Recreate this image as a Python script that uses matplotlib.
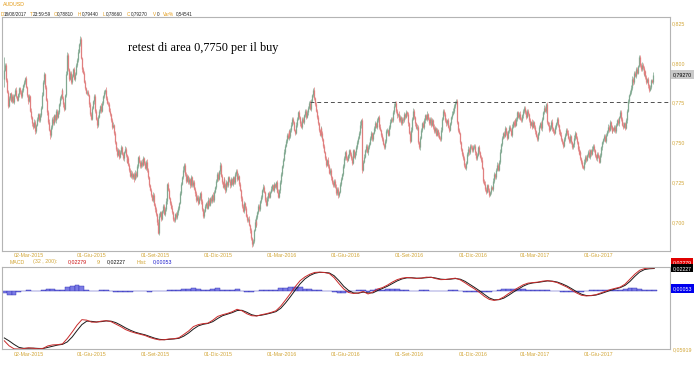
import numpy as np
import pandas as pd
import matplotlib
matplotlib.use("Agg")
import matplotlib.pyplot as plt
from matplotlib.transforms import blended_transform_factory

# ---------------- data ----------------
symbol = "AUDUSD"
last_date = "2017-08-18"
first_open = 0.7900
# daily closes, in 1e-4 units
close_pips = [
    7956, 7990, 7890, 7820, 7730, 7780, 7810, 7760, 7790, 7755,
    7800, 7830, 7790, 7770, 7805, 7840, 7815, 7790, 7830, 7860,
    7880, 7905, 7850, 7800, 7760, 7790, 7740, 7700, 7660, 7620,
    7600, 7630, 7570, 7610, 7650, 7680, 7640, 7670, 7720, 7800,
    7880, 7930, 7850, 7770, 7690, 7630, 7580, 7545, 7600, 7650,
    7620, 7670, 7640, 7700, 7660, 7690, 7740, 7780, 7800, 7830,
    7780, 7740, 7710, 7800, 7930, 8050, 7960, 7900, 7940, 7880,
    7920, 7960, 7900, 7930, 7990, 8020, 8070, 8120, 8150, 8030,
    7960, 7940, 7880, 7840, 7810, 7820, 7800, 7740, 7680, 7650, 7720,
    7760, 7790, 7740, 7700, 7650, 7610, 7660, 7700, 7730, 7700,
    7750, 7790, 7820, 7830, 7780, 7750, 7740, 7700, 7680, 7640,
    7600, 7610, 7560, 7500, 7460, 7420, 7450, 7410, 7440, 7470,
    7430, 7400, 7440, 7460, 7420, 7380, 7400, 7360, 7330, 7290,
    7310, 7280, 7300, 7270, 7310, 7290, 7350, 7410, 7380, 7350,
    7380, 7360, 7400, 7370, 7340, 7380, 7330, 7280, 7230, 7200,
    7170, 7140, 7170, 7110, 7080, 7050, 7000, 6930, 6980, 7040,
    7060, 7020, 7070, 7100, 7050, 7080, 7130, 7240, 7200, 7150,
    7120, 7090, 7060, 7020, 7010, 7050, 7030, 7060, 7090, 7120, 7180,
    7240, 7280, 7330, 7360, 7300, 7260, 7290, 7250, 7270, 7230,
    7280, 7260, 7230, 7250, 7210, 7180, 7140, 7160, 7120, 7150,
    7180, 7130, 7080, 7040, 7070, 7100, 7120, 7090, 7140, 7110,
    7150, 7130, 7170, 7140, 7190, 7220, 7260, 7300, 7270, 7320,
    7360, 7290, 7250, 7220, 7270, 7240, 7200, 7250, 7230, 7280,
    7260, 7230, 7270, 7240, 7280, 7250, 7300, 7320, 7270, 7290,
    7240, 7200, 7150, 7100, 7070, 7120, 7090, 7040, 7010, 7020,
    6980, 6950, 6900, 6860, 6880, 6950, 7000, 6980, 7030, 7060,
    7100, 7080, 7130, 7160, 7200, 7220, 7190, 7140, 7110, 7150,
    7180, 7160, 7190, 7210, 7230, 7200, 7240, 7220, 7250, 7190, 7160,
    7200, 7250, 7300, 7350, 7390, 7440, 7480, 7510, 7550, 7530,
    7570, 7540, 7580, 7610, 7650, 7630, 7580, 7560, 7610, 7650,
    7690, 7660, 7620, 7600, 7650, 7630, 7670, 7700, 7660, 7690,
    7720, 7750, 7710, 7760, 7800, 7830, 7780, 7740, 7700, 7660,
    7620, 7580, 7550, 7590, 7560, 7520, 7480, 7440, 7400, 7360,
    7390, 7350, 7310, 7330, 7280, 7250, 7230, 7260, 7220, 7180,
    7210, 7170, 7190, 7240, 7270, 7300, 7350, 7400, 7440, 7400,
    7390, 7420, 7450, 7430, 7400, 7370, 7420, 7450, 7410, 7440,
    7470, 7500, 7530, 7560, 7610, 7640, 7330, 7380, 7410, 7450,
    7480, 7440, 7470, 7490, 7530, 7560, 7520, 7560, 7590, 7620, 7600,
    7640, 7660, 7600, 7580, 7550, 7520, 7490, 7470, 7510, 7540,
    7570, 7580, 7550, 7600, 7630, 7650, 7640, 7690, 7730, 7750,
    7700, 7670, 7680, 7640, 7660, 7620, 7650, 7640, 7680, 7660,
    7690, 7680, 7620, 7560, 7510, 7580, 7650, 7700, 7660, 7620,
    7590, 7600, 7550, 7500, 7470, 7530, 7580, 7620, 7600, 7640,
    7670, 7650, 7680, 7650, 7620, 7650, 7610, 7640, 7600, 7570,
    7590, 7550, 7580, 7550, 7530, 7520, 7580, 7650, 7700, 7680,
    7640, 7620, 7640, 7600, 7580, 7590, 7620, 7660, 7680, 7700,
    7730, 7750, 7760, 7630, 7580, 7560, 7500, 7460, 7430, 7400,
    7360, 7340, 7370, 7430, 7460, 7440, 7480, 7470, 7450, 7470, 7480,
    7440, 7400, 7420, 7470, 7440, 7410, 7390, 7340, 7300, 7260,
    7240, 7210, 7190, 7230, 7200, 7170, 7190, 7220, 7210, 7260,
    7300, 7280, 7330, 7360, 7330, 7380, 7440, 7490, 7530, 7560,
    7540, 7590, 7560, 7530, 7570, 7600, 7580, 7550, 7600, 7630,
    7610, 7640, 7610, 7650, 7690, 7660, 7680, 7650, 7640, 7670,
    7700, 7720, 7690, 7660, 7700, 7680, 7640, 7610, 7630, 7600,
    7630, 7600, 7570, 7540, 7520, 7560, 7600, 7620, 7590, 7650,
    7690, 7720, 7700, 7740, 7660, 7630, 7610, 7580, 7600, 7630,
    7590, 7570, 7560, 7600, 7620, 7650, 7610, 7570, 7550, 7520, 7500,
    7480, 7520, 7550, 7580, 7560, 7530, 7510, 7540, 7500, 7470,
    7490, 7530, 7560, 7530, 7500, 7460, 7430, 7440, 7400, 7380,
    7350, 7340, 7380, 7410, 7390, 7420, 7440, 7410, 7450, 7430,
    7460, 7480, 7450, 7420, 7400, 7430, 7410, 7380, 7420, 7470,
    7500, 7520, 7540, 7510, 7550, 7570, 7600, 7580, 7630, 7600,
    7570, 7590, 7580, 7600, 7570, 7610, 7640, 7620, 7660, 7690, 7650,
    7610, 7600, 7620, 7590, 7640, 7700, 7760, 7800, 7820, 7840,
    7900, 7880, 7940, 7920, 7960, 7940, 7980, 8040, 7990, 7960,
    7990, 7970, 7930, 7950, 7910, 7880, 7900, 7860, 7830, 7850,
    7890, 7881, 7927,
]
# wick beyond the body, in units of 4 pips
wick_unit = 0.0004
wick_hi = [
    21, 3, 2, 4, 2, 3, 1, 2, 4, 3,  2, 3, 4, 1, 2, 3, 2, 4, 3, 2,
    3, 2, 4, 2, 1, 3, 2, 3, 4, 2,   2, 4, 3, 2, 3, 1, 2, 4, 3, 5,
    3, 4, 2, 3, 2, 3, 4, 2, 3, 2,   4, 2, 3, 3, 2, 4, 2, 3, 2, 3,
    2, 3, 4, 2, 5, 4, 3, 2, 3, 2,   3, 2, 4, 3, 2, 3, 4, 2, 5, 3,
    2, 3, 2, 4, 3, 2, 3, 2, 4, 3,   3, 2, 3, 4, 2, 3, 2, 4, 3, 2,
    4, 3, 2, 3, 2, 4, 3, 2, 3, 4,   2, 3, 4, 2, 3, 2, 3, 4, 2, 3,
    3, 2, 3, 2, 4, 3, 2, 3, 4, 2,   2, 4, 3, 2, 3, 4, 2, 3, 2, 3,
    3, 2, 4, 3, 2, 3, 2, 4, 3, 2,   2, 3, 2, 4, 3, 2, 3, 2, 4, 3,
    4, 2, 3, 2, 3, 4, 3, 5, 2, 3,   3, 2, 3, 4, 2, 3, 2, 3, 4, 2,
    2, 4, 3, 2, 5, 3, 2, 4, 3, 2,   3, 2, 4, 3, 2, 3, 4, 2, 3, 2,
    2, 3, 2, 4, 3, 2, 3, 4, 2, 3,   4, 3, 2, 3, 2, 4, 3, 2, 3, 4,
    3, 2, 4, 2, 3, 2, 3, 4, 2, 3,   2, 3, 2, 3, 4, 2, 3, 2, 4, 3,
    3, 4, 2, 3, 2, 3, 4, 3, 2, 3,   2, 3, 4, 2, 3, 2, 3, 2, 4, 3,
    3, 2, 3, 4, 2, 3, 2, 4, 3, 2,   4, 3, 2, 3, 2, 4, 3, 2, 3, 2,
    2, 3, 4, 2, 3, 4, 2, 3, 4, 2,   3, 2, 3, 4, 2, 3, 4, 2, 3, 2,
    2, 4, 3, 2, 3, 2, 4, 3, 2, 3,   3, 2, 4, 3, 2, 5, 3, 2, 3, 4,
    2, 3, 2, 4, 3, 2, 3, 2, 3, 2,   3, 2, 3, 2, 4, 3, 2, 3, 2, 4,
    2, 3, 4, 2, 3, 2, 3, 4, 2, 3,   3, 2, 3, 4, 2, 3, 2, 3, 4, 2,
    2, 3, 2, 3, 4, 2, 3, 6, 2, 3,   3, 4, 2, 3, 2, 3, 4, 2, 3, 2,
    2, 3, 4, 2, 3, 2, 3, 4, 2, 3,   3, 2, 3, 2, 4, 3, 2, 3, 4, 2,
    2, 3, 4, 3, 2, 3, 2, 4, 3, 2,   3, 2, 3, 2, 4, 2, 3, 2, 3, 4,
    2, 4, 3, 2, 3, 4, 2, 3, 2, 3,   3, 2, 4, 3, 2, 3, 4, 2, 3, 2,
    2, 3, 2, 4, 3, 2, 3, 2, 4, 3,   4, 2, 3, 2, 3, 4, 2, 3, 2, 3,
    3, 2, 4, 5, 3, 2, 3, 4, 2, 3,   2, 3, 2, 3, 4, 2, 3, 2, 4, 3,
    3, 2, 3, 4, 2, 3, 2, 3, 2, 4,   2, 3, 4, 2, 3, 2, 4, 3, 2, 3,
    3, 2, 3, 2, 4, 3, 2, 3, 4, 2,   2, 4, 2, 3, 2, 3, 4, 2, 3, 2,
    3, 2, 3, 4, 2, 3, 2, 4, 3, 2,   2, 3, 4, 2, 3, 2, 3, 2, 4, 3,
    3, 2, 3, 2, 4, 3, 2, 3, 2, 4,   2, 3, 2, 4, 3, 2, 4, 3, 2, 3,
    3, 2, 4, 2, 3, 4, 2, 3, 2, 3,   2, 3, 2, 3, 4, 2, 3, 4, 2, 3,
    3, 4, 2, 3, 2, 3, 2, 4, 3, 2,   2, 3, 4, 2, 3, 2, 3, 2, 4, 3,
    3, 2, 3, 4, 2, 3, 4, 2, 3, 2,   2, 3, 2, 3, 4, 2, 3, 2, 3, 4,
    3, 2, 4, 2, 3, 2, 3, 4, 2, 3,   2, 3, 2, 3, 2, 4, 3, 2, 4, 3,
    3, 4, 2, 3, 2, 3, 5, 4, 3, 2,   2, 3, 4, 2, 3, 2, 3, 4, 2, 3,
    3, 2, 3, 2, 3, 2, 3, 2, 3, 4,
]
wick_lo = [
    12, 2, 3, 2, 4, 2, 3, 2, 3, 2,  3, 2, 2, 3, 2, 4, 3, 2, 2, 3,
    2, 3, 2, 3, 4, 2, 3, 2, 3, 4,   3, 2, 4, 3, 2, 3, 2, 3, 2, 3,
    2, 3, 3, 2, 4, 3, 2, 5, 2, 3,   3, 2, 2, 4, 3, 2, 3, 2, 3, 2,
    2, 4, 3, 2, 3, 2, 3, 4, 2, 3,   3, 2, 2, 3, 2, 4, 3, 2, 3, 2,
    4, 3, 2, 3, 2, 3, 2, 4, 3, 2,   2, 3, 4, 2, 3, 2, 4, 3, 2, 3,
    3, 2, 3, 2, 4, 3, 2, 3, 2, 3,   2, 4, 2, 3, 2, 4, 3, 2, 3, 2,
    3, 2, 3, 4, 2, 3, 2, 3, 2, 4,   2, 3, 2, 3, 4, 2, 3, 2, 3, 2,
    3, 2, 4, 2, 3, 2, 3, 4, 2, 3,   2, 3, 2, 3, 2, 4, 3, 5, 2, 3,
    3, 2, 4, 2, 3, 2, 3, 2, 4, 2,   2, 3, 2, 3, 4, 2, 3, 2, 3, 4,
    3, 2, 3, 2, 3, 4, 2, 3, 2, 3,   2, 4, 2, 3, 2, 3, 2, 4, 3, 2,
    3, 2, 3, 4, 2, 3, 4, 2, 3, 2,   2, 3, 2, 3, 2, 4, 3, 2, 3, 2,
    3, 2, 4, 2, 3, 2, 3, 2, 4, 3,   2, 3, 2, 4, 3, 2, 3, 2, 3, 2,
    3, 2, 3, 2, 4, 3, 2, 3, 4, 2,   2, 3, 2, 4, 3, 5, 2, 3, 2, 3,
    3, 2, 3, 2, 3, 2, 4, 3, 2, 4,   2, 3, 4, 2, 3, 2, 3, 2, 3, 2,
    3, 2, 3, 2, 4, 3, 2, 3, 2, 3,   2, 4, 2, 3, 2, 3, 4, 2, 3, 2,
    3, 2, 3, 2, 3, 4, 2, 3, 2, 4,   2, 3, 2, 4, 3, 2, 3, 2, 4, 3,
    3, 2, 3, 2, 3, 2, 4, 3, 2, 3,   2, 3, 4, 2, 3, 2, 3, 4, 2, 3,
    3, 2, 3, 2, 4, 3, 2, 3, 2, 3,   2, 3, 2, 3, 2, 4, 3, 2, 3, 2,
    3, 2, 3, 4, 2, 3, 2, 3, 4, 6,   2, 3, 2, 3, 2, 4, 3, 2, 3, 2,
    3, 2, 4, 2, 3, 2, 3, 2, 4, 3,   2, 3, 2, 3, 4, 2, 3, 2, 3, 2,
    3, 2, 3, 2, 3, 4, 2, 3, 2, 3,   2, 4, 2, 3, 2, 3, 4, 2, 3, 2,
    3, 2, 3, 4, 2, 3, 2, 3, 2, 4,   2, 3, 2, 3, 4, 2, 3, 2, 3, 2,
    3, 2, 4, 2, 3, 2, 3, 4, 2, 3,   2, 3, 2, 3, 2, 4, 3, 2, 3, 2,
    3, 2, 3, 2, 4, 3, 2, 4, 3, 2,   2, 3, 4, 2, 3, 2, 3, 2, 3, 4,
    3, 2, 3, 2, 3, 4, 2, 3, 2, 3,   2, 3, 2, 4, 3, 2, 3, 4, 2, 3,
    3, 2, 3, 2, 4, 3, 2, 3, 2, 3,   2, 4, 2, 3, 2, 3, 2, 4, 3, 2,
    3, 2, 3, 4, 2, 3, 2, 3, 2, 3,   2, 3, 2, 3, 2, 4, 3, 2, 3, 2,
    3, 2, 4, 2, 3, 2, 3, 4, 2, 3,   2, 3, 2, 3, 4, 2, 3, 2, 3, 2,
    3, 2, 3, 2, 3, 4, 2, 3, 2, 4,   2, 3, 4, 2, 3, 2, 3, 2, 3, 2,
    3, 2, 3, 4, 2, 3, 2, 4, 3, 2,   2, 3, 2, 3, 2, 4, 3, 2, 3, 4,
    3, 2, 3, 2, 4, 3, 2, 3, 2, 3,   2, 4, 2, 3, 2, 3, 4, 2, 3, 2,
    3, 2, 3, 4, 2, 3, 2, 3, 2, 3,   2, 3, 2, 3, 4, 2, 3, 2, 3, 2,
    3, 2, 4, 2, 3, 2, 3, 2, 4, 3,   2, 3, 2, 3, 2, 4, 3, 2, 3, 2,
    3, 2, 3, 2, 4, 3, 2, 3, 2, 4,
]
# MACD(32,200) and signal(9), one reading every 5 bars
macd_step = 5
macd = [
    -0.0509, -0.0560, -0.0590, -0.0592, -0.0588, -0.0580, -0.0585, -0.0590, -0.0585, -0.0560,
    -0.0550, -0.0548, -0.0540, -0.0485, -0.0420, -0.0350, -0.0295, -0.0300, -0.0320, -0.0320,
    -0.0310, -0.0305, -0.0315, -0.0340, -0.0365, -0.0395, -0.0415, -0.0430, -0.0442, -0.0455,
    -0.0475, -0.0490, -0.0500, -0.0498, -0.0490, -0.0488, -0.0478, -0.0445, -0.0410, -0.0365,
    -0.0345, -0.0335, -0.0330, -0.0300, -0.0262, -0.0245, -0.0232, -0.0215, -0.0190, -0.0205,
    -0.0235, -0.0255, -0.0258, -0.0245, -0.0235, -0.0222, -0.0205, -0.0158, -0.0095, -0.0030,
    0.0040, 0.0100, 0.0138, 0.0165, 0.0183, 0.0186, 0.0182, 0.0172, 0.0130, 0.0070,
    0.0015, -0.0020, -0.0030, -0.0025, -0.0010, -0.0035, -0.0015, 0.0015, 0.0030, 0.0055,
    0.0085, 0.0110, 0.0125, 0.0132, 0.0128, 0.0122, 0.0126, 0.0135, 0.0134, 0.0120,
    0.0110, 0.0112, 0.0118, 0.0125, 0.0108, 0.0078, 0.0045, 0.0015, -0.0020, -0.0060,
    -0.0090, -0.0100, -0.0090, -0.0065, -0.0030, 0.0000, 0.0030, 0.0058, 0.0075, 0.0080,
    0.0085, 0.0095, 0.0100, 0.0092, 0.0080, 0.0058, 0.0035, 0.0005, -0.0025, -0.0048,
    -0.0055, -0.0050, -0.0042, -0.0025, -0.0008, 0.0010, 0.0022, 0.0035, 0.0065, 0.0115,
    0.0165, 0.0205, 0.0222, 0.0228, 0.02279,
]
signal = [
    -0.0480, -0.0510, -0.0545, -0.0575, -0.0585, -0.0584, -0.0583, -0.0586, -0.0587, -0.0575,
    -0.0562, -0.0552, -0.0545, -0.0520, -0.0470, -0.0405, -0.0345, -0.0310, -0.0312, -0.0318,
    -0.0315, -0.0308, -0.0310, -0.0325, -0.0350, -0.0378, -0.0402, -0.0422, -0.0436, -0.0448,
    -0.0465, -0.0482, -0.0494, -0.0498, -0.0494, -0.0490, -0.0484, -0.0462, -0.0430, -0.0390,
    -0.0358, -0.0342, -0.0333, -0.0315, -0.0283, -0.0255, -0.0240, -0.0224, -0.0203, -0.0200,
    -0.0220, -0.0245, -0.0256, -0.0250, -0.0240, -0.0228, -0.0214, -0.0180, -0.0125, -0.0062,
    0.0005, 0.0068, 0.0118, 0.0152, 0.0174, 0.0184, 0.0183, 0.0178, 0.0150, 0.0100,
    0.0042, 0.0000, -0.0024, -0.0027, -0.0016, -0.0024, -0.0024, 0.0000, 0.0022, 0.0043,
    0.0070, 0.0097, 0.0117, 0.0128, 0.0129, 0.0125, 0.0125, 0.0130, 0.0134, 0.0126,
    0.0115, 0.0112, 0.0115, 0.0121, 0.0115, 0.0093, 0.0062, 0.0030, -0.0003, -0.0040,
    -0.0075, -0.0094, -0.0093, -0.0077, -0.0048, -0.0015, 0.0015, 0.0044, 0.0066, 0.0077,
    0.0082, 0.0090, 0.0097, 0.0095, 0.0086, 0.0068, 0.0046, 0.0018, -0.0012, -0.0037,
    -0.0051, -0.0052, -0.0046, -0.0032, -0.0015, 0.0002, 0.0016, 0.0029, 0.0052, 0.0092,
    0.0143, 0.0187, 0.0212, 0.0220, 0.02227,
]
tick_dates = ["2015-03-02", "2015-06-01", "2015-09-01", "2015-12-01", "2016-03-01",
              "2016-06-01", "2016-09-01", "2016-12-01", "2017-03-01", "2017-06-01"]
tick_labels = ["02-Mar-2015", "01-Giu-2015", "01-Set-2015", "01-Dic-2015", "01-Mar-2016",
               "01-Giu-2016", "01-Set-2016", "01-Dic-2016", "01-Mar-2017", "01-Giu-2017"]
price_ticks = [0.700, 0.725, 0.750, 0.775, 0.800, 0.825]
price_tick_labels = ["0,700", "0,725", "0,750", "0,775", "0,800", "0,825"]
level = 0.7756
level_start = "2016-04-11"
note = "retest di area 0,7750 per il buy"
info = [("D", "18/08/2017"), ("T", "23:59:59"), ("O", "0,78810"), ("H", "0,79440"),
        ("L", "0,78660"), ("C", "0,79270"), ("V", "0"), ("Var%", "0,54541")]
macd_hdr = [("MACD", "g"), ("(32 , 200):", "g"), ("0,02279", "r"), ("9:", "g"),
            ("0,02227", "k"), ("Hist:", "g"), ("0,00053", "b")]

# ---------------- styling ----------------
GOLD = "#d2a637"
ORANGE = "#e39a14"
UPC = "#80a890"
DNC = "#e07f7f"
FRAME = "#b4b4b4"
SANS = ["Liberation Sans", "DejaVu Sans"]
FS = 3.8
FS_INFO = 3.3

W, H = 700, 365
fig = plt.figure(figsize=(W / 100, H / 100), dpi=100)
fig.patch.set_facecolor("white")


def rect(x0, y0, x1, y1):
    return [x0 / W, 1 - y1 / H, (x1 - x0) / W, (y1 - y0) / H]


ax = fig.add_axes(rect(2, 17, 670, 250.5))
ax2 = fig.add_axes(rect(2, 267, 670, 349))

close = np.array(close_pips, float) / 1e4
N = len(close)
dates = pd.bdate_range(end=last_date, periods=N)
xs = np.arange(N)
opens = np.r_[first_open, close[:-1]]
whi = np.array(wick_hi[:N], float)
wlo = np.array(wick_lo[:N], float)
hi = np.maximum(opens, close) + whi * wick_unit
lo = np.minimum(opens, close) - wlo * wick_unit
up = close >= opens

XL = (-2.37, 686.3)

for m, c in ((up, UPC), (~up, DNC)):
    ax.vlines(xs[m], lo[m], hi[m], colors=c, lw=0.5)
    ax.vlines(xs[m], np.minimum(opens, close)[m], np.maximum(opens, close)[m], colors=c, lw=0.9)

ls = dates.searchsorted(pd.Timestamp(level_start))
ax.hlines(level, ls, XL[1], colors="#505050", linestyles=(0, (4, 3)), lw=0.7)

ax.set_xlim(*XL)
ax.set_ylim(0.6821, 0.8289)
ax.yaxis.tick_right()
ax.set_yticks(price_ticks)
ax.set_yticklabels(price_tick_labels)
tpos = dates.searchsorted(pd.to_datetime(tick_dates))
for a, pad in ((ax, 1.6), (ax2, 2.2)):
    a.set_xticks(tpos)
    a.set_xticklabels(tick_labels)
    a.tick_params(axis="x", length=0, pad=pad, labelsize=FS, labelcolor=GOLD)
    for lab in a.get_xticklabels():
        lab.set_family(SANS)
    for s in a.spines.values():
        s.set_color(FRAME)
        s.set_linewidth(0.8)
ax.tick_params(axis="y", length=0, pad=1.5, labelsize=FS, labelcolor=GOLD)
for lab in ax.get_yticklabels():
    lab.set_family(SANS)

# last price tag
bt = blended_transform_factory(ax.transAxes, ax.transData)
ax.text(1.004, close[-1], "0,79270", transform=bt, ha="left", va="center", fontsize=FS,
        family=SANS, color="black", clip_on=False,
        bbox=dict(boxstyle="square,pad=0.35", fc="#c9c9c9", ec="none"))

# annotation
fig.text(128 / W, 1 - 48 / H, note, family=["Liberation Serif", "DejaVu Serif"],
         fontsize=8.8, va="center", ha="left", color="black")

# ---------------- MACD ----------------
mv = np.array(macd)
sv = np.array(signal)
mx = np.arange(len(mv)) * macd_step
hist = mv - sv
ax2.bar(mx, hist, width=macd_step, color="#7b7be4", edgecolor="#2a2ab5", lw=0.3)
ax2.plot(mx, sv, color="#1a1a1a", lw=0.7)
ax2.plot(mx, mv, color="#c92a2a", lw=0.7)
ax2.set_xlim(*XL)
ax2.set_ylim(-0.05919, 0.0238)
ax2.set_yticks([])

# ---------------- header texts ----------------
fig.text(3 / W, 1 - 5 / H, symbol, fontsize=FS, family=SANS, color=ORANGE, va="center")
info_x = [(1, 4), (30, 33), (54, 57), (78, 82), (103, 106), (127, 131), (153, 157), (163, 176)]
for (k, v), (xk, xv) in zip(info, info_x):
    fig.text(xk / W, 1 - 14 / H, k, fontsize=FS_INFO, family=SANS, color=ORANGE, va="center")
    fig.text(xv / W, 1 - 14 / H, v, fontsize=FS_INFO, family=SANS, color="#222222", va="center")

cmap = {"g": GOLD, "r": "#cc1010", "k": "#111111", "b": "#1a1acc"}
hdr_x = [10, 33, 68, 97, 107, 137, 153]
for (t, c), xh in zip(macd_hdr, hdr_x):
    fig.text(xh / W, 1 - 262 / H, t, fontsize=FS, family=SANS, color=cmap[c], va="center")

# right value tags of MACD panel
for txt, yy, fc in (("0,02279", 262.5, "#e00000"), ("0,02227", 268.3, "#000000"),
                    ("0,00053", 288.5, "#0000ee")):
    fig.text(672.5 / W, 1 - yy / H, txt, fontsize=FS, family=SANS, color="white", va="center",
             bbox=dict(boxstyle="square,pad=0.3", fc=fc, ec="none"))
fig.text(673 / W, 1 - 350 / H, "0,05919", fontsize=FS, family=SANS, color=GOLD, va="center")

fig.savefig("out.png", dpi=100, facecolor="white")
